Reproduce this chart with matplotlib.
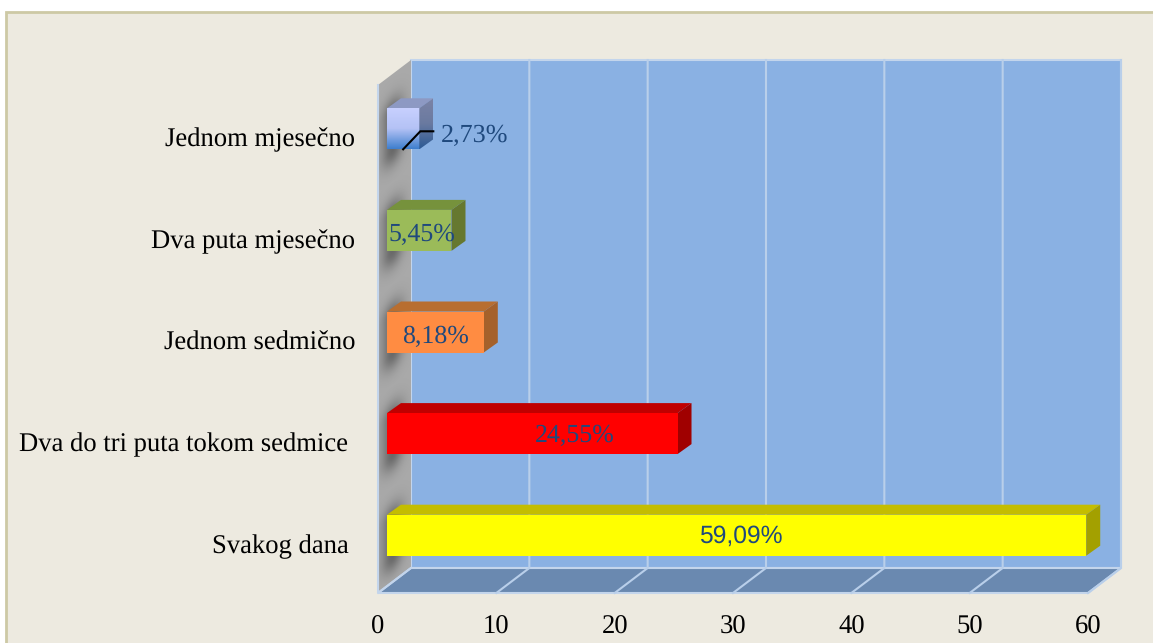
import numpy as np
import matplotlib
matplotlib.use("Agg")
import matplotlib.pyplot as plt
from matplotlib.colors import LinearSegmentedColormap
from matplotlib.patches import Polygon, Rectangle

plt.rcParams["text.hinting"] = "no_hinting"

categories = ["Svakog dana ", "Dva do tri puta tokom sedmice ", "Jednom sedmično",
              "Dva puta mjesečno", "Jednom mjesečno"]
values = [59.09, 24.55, 8.18, 5.45, 2.73]
value_labels = ["59,09%", "24,55%", "8,18%", "5,45%", "2,73%"]
x_ticks = [0, 10, 20, 30, 40, 50, 60]
front_colors = ["#ffff00", "#ff0000", "#ff8c42", "#9bbb59", "#a9b8f0"]
top_colors = ["#c4bd00", "#c00000", "#b86e30", "#76923c", "#8d99c3"]
side_colors = ["#a3a000", "#a00000", "#a5612b", "#66782f", "#566a9a"]

W, H = 1153, 643
X0, X1, Y_BOTTOM, Y_TOP = 378, 1088, 593, 85   # front plane, pixels
WALL_DX, WALL_DY = 33, -25                     # chart depth
BAR_DX, BAR_DY = 9, -7                         # bar front inside the depth
BAR_TOP_DX, BAR_TOP_DY = 14, -10               # bar's own depth
BAR_H = 41
INK = "#1f497d"
GRID = "#b9cfea"
SERIF = "Liberation Serif"
TEXT_SIZE = 19.2

fig = plt.figure(figsize=(W / 100, H / 100), dpi=100, facecolor="white")

# Frame and chart walls, laid out in figure pixels
bg = fig.add_axes([0, 0, 1, 1], zorder=0)
bg.set_xlim(0, W)
bg.set_ylim(H, 0)
bg.axis("off")
bg.add_patch(Rectangle((6, 12), W + 10, H, fc="#edeae0", ec="#cdc9a5", lw=2))

wall = [(X0 + WALL_DX, Y_TOP + WALL_DY), (X1 + WALL_DX, Y_TOP + WALL_DY),
        (X1 + WALL_DX, Y_BOTTOM + WALL_DY), (X0 + WALL_DX, Y_BOTTOM + WALL_DY)]
side = [(X0, Y_TOP), (X0 + WALL_DX, Y_TOP + WALL_DY),
        (X0 + WALL_DX, Y_BOTTOM + WALL_DY), (X0, Y_BOTTOM)]
floor = [(X0, Y_BOTTOM), (X1, Y_BOTTOM),
         (X1 + WALL_DX, Y_BOTTOM + WALL_DY), (X0 + WALL_DX, Y_BOTTOM + WALL_DY)]
bg.add_patch(Polygon(wall, fc="#8ab1e3", ec="#c3d5ec", lw=1.5, zorder=1))
bg.add_patch(Polygon(side, fc="#a9a9a9", ec="none", zorder=1))
bg.plot([X0, X0, X0 + WALL_DX], [Y_TOP, Y_BOTTOM, Y_BOTTOM + WALL_DY], color="#c3d5ec", lw=1.5, zorder=2)
bg.add_patch(Polygon(floor, fc="#6a89b0", ec="#c3d5ec", lw=1.5, zorder=1))

# Soft shadows the bars cast on the side wall
yy, xx = np.mgrid[0:H, 0:W]
alpha = np.zeros((H, W))
cat_h = (Y_BOTTOM - Y_TOP) / len(categories)
for i in range(len(categories)):
    cy = Y_BOTTOM - cat_h * (i + 0.5) + BAR_DY
    skew = (xx - 395) * 0.75
    dist_y = np.clip((np.abs(yy - cy + skew) - 18) / 16, 0, None)
    dist_x = np.clip(np.abs(xx - 392) / 11, 0, None)
    alpha = np.maximum(alpha, np.exp(-(dist_y ** 2 + dist_x ** 2)) * 0.6)
shade = np.zeros((H, W, 4))
shade[..., :3] = 0.25
shade[..., 3] = alpha
img = bg.imshow(shade, extent=(0, W, H, 0), aspect="auto", zorder=1.5, interpolation="bilinear")
img.set_clip_path(Polygon(side, transform=bg.transData))
bg.set_xlim(0, W)
bg.set_ylim(H, 0)

# Data axes sit exactly on the chart's front plane
ax = fig.add_axes([X0 / W, 1 - Y_BOTTOM / H, (X1 - X0) / W, (Y_BOTTOM - Y_TOP) / H], zorder=1)
ax.patch.set_alpha(0)
ax.set_xlim(0, 60)
ax.set_ylim(0, len(categories))
for s in ax.spines.values():
    s.set_visible(False)

px_x = 60 / (X1 - X0)
px_y = len(categories) / (Y_BOTTOM - Y_TOP)

# Gridlines run across the floor and up the back wall
for t in x_ticks[1:]:
    ax.plot([t, t + WALL_DX * px_x, t + WALL_DX * px_x],
            [0, -WALL_DY * px_y, (Y_BOTTOM - Y_TOP - WALL_DY) * px_y],
            color=GRID, lw=1.5, clip_on=False, zorder=1)

x_start = BAR_DX * px_x
half = BAR_H / 2 * px_y
ddx, ddy = BAR_TOP_DX * px_x, -BAR_TOP_DY * px_y
for i, v in enumerate(values):
    c = i + 0.5 - BAR_DY * px_y
    x1 = x_start + v
    lo, hi = c - half, c + half
    top = [(x_start, hi), (x1, hi), (x1 + ddx, hi + ddy), (x_start + ddx, hi + ddy)]
    right = [(x1, lo), (x1 + ddx, lo + ddy), (x1 + ddx, hi + ddy), (x1, hi)]
    ax.add_patch(Polygon(top, fc=top_colors[i], ec="none", clip_on=False, zorder=3))
    if i == 4:
        # The smallest bar is shaded from pale lilac down to blue
        cm_front = LinearSegmentedColormap.from_list("front", ["#c8d0ff", "#b4c2f5", "#3f7fce"])
        cm_side = LinearSegmentedColormap.from_list("side", ["#7b83a6", "#6a7aa0", "#2d5a94"])
        g = np.linspace(0, 1, 64).reshape(-1, 1)
        ax.imshow(g, cmap=cm_front, extent=(x_start, x1, lo, hi), aspect="auto", origin="upper",
                  zorder=3, clip_on=False)
        im = ax.imshow(g, cmap=cm_side, extent=(x1, x1 + ddx, lo, hi + ddy), aspect="auto",
                       origin="upper", zorder=3)
        im.set_clip_path(Polygon(right, transform=ax.transData))
    else:
        ax.add_patch(Polygon(right, fc=side_colors[i], ec="none", clip_on=False, zorder=3))
        ax.add_patch(Rectangle((x_start, lo), v, hi - lo, fc=front_colors[i], ec="none",
                               clip_on=False, zorder=4))
ax.set_xlim(0, 60)
ax.set_ylim(0, len(categories))

# Value labels: near the centre of each bar, the smallest sits outside on a leader line
label_shift_x = [4.5, 42, 0, 2.5, 0]
label_shift_y = [1, 2, 5, 4, 7]
label_sizes = [17.7, 18.6, 18.6, 18.6, 18.8]
label_fonts = ["Liberation Sans", SERIF, SERIF, SERIF, SERIF]
for i, v in enumerate(values):
    yc = i + 0.5 - BAR_DY * px_y
    ty = yc - label_shift_y[i] * px_y
    if i == 4:
        x1 = x_start + v
        ax.plot([x_start + v / 2, x1 + 1 * px_x, x1 + ddx],
                [yc - half, yc - half + 18 * px_y, yc - half + 18 * px_y],
                color="black", lw=1.5, clip_on=False, zorder=6, solid_joinstyle="miter")
        ax.text(x1 + ddx + 8 * px_x, ty, value_labels[i], family=label_fonts[i], fontsize=label_sizes[i],
                color=INK, va="center", ha="left", zorder=7)
    else:
        ax.text(x_start + v / 2 + label_shift_x[i] * px_x, ty, value_labels[i],
                family=label_fonts[i], fontsize=label_sizes[i], color=INK,
                va="center", ha="center", zorder=7)

# Axis text
ax.set_xticks(x_ticks)
ax.set_xticklabels([str(t) for t in x_ticks], family=SERIF, fontsize=TEXT_SIZE, color="black")
ax.set_yticks(np.arange(len(categories)) + 0.5 - 1.5 * px_y)
ax.set_yticklabels(categories, family=SERIF, fontsize=TEXT_SIZE, color="black")
ax.tick_params(axis="x", length=0, pad=15.5)
ax.tick_params(axis="y", length=0, pad=16.5)

fig.savefig("out.png", dpi=100, facecolor="white")
